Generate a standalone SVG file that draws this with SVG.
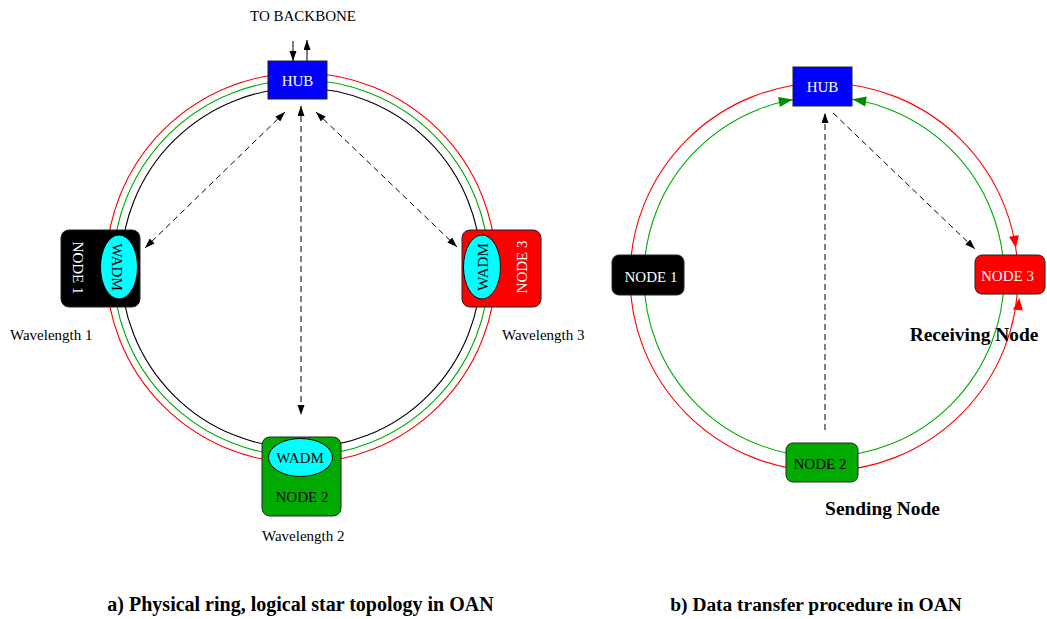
<svg xmlns="http://www.w3.org/2000/svg" width="1047" height="619" viewBox="0 0 1047 619">
<style>
text{font-family:"Liberation Serif","Times New Roman",serif;font-size:15px}
.w{fill:#fff}
.b{fill:#000}
.c{text-anchor:middle}
.bold{font-weight:bold;font-size:19.4px}
.nd{stroke:#222;stroke-width:1}
.ring{fill:none;stroke-width:1.1}
.dash{fill:none;stroke:#000;stroke-width:1;stroke-dasharray:6 4}
.solid{fill:none;stroke:#000;stroke-width:1}
</style>
<defs>
<marker id="ah" markerUnits="userSpaceOnUse" markerWidth="11" markerHeight="8" refX="10" refY="3.5" orient="auto-start-reverse">
<path d="M0,0 L10,3.5 L0,7 z" fill="#000"/>
</marker>
</defs>
<rect width="1047" height="619" fill="#fff"/>
<g id="rings">
<circle cx="301" cy="268" r="195" class="ring" stroke="#ff0000"/>
<circle cx="301" cy="268" r="188" class="ring" stroke="#00aa00"/>
<circle cx="301" cy="268" r="180" class="ring" stroke="#000"/>
<circle cx="824" cy="277" r="194" class="ring" stroke="#ff0000"/>
<circle cx="824" cy="277" r="180" class="ring" stroke="#00aa00"/>
</g>
<g id="connectors">
<line x1="293" y1="41" x2="293" y2="61" class="solid" marker-end="url(#ah)"/>
<line x1="307" y1="61" x2="307" y2="40" class="solid" marker-end="url(#ah)"/>
<line x1="285" y1="112" x2="145" y2="248" class="dash" marker-start="url(#ah)" marker-end="url(#ah)"/>
<line x1="316" y1="112" x2="457" y2="247" class="dash" marker-start="url(#ah)" marker-end="url(#ah)"/>
<line x1="301" y1="106" x2="301" y2="415" class="dash" marker-start="url(#ah)" marker-end="url(#ah)"/>
<line x1="825" y1="430" x2="825" y2="113" class="dash" marker-end="url(#ah)"/>
<line x1="833" y1="113" x2="975" y2="249" class="dash" marker-end="url(#ah)"/>
<polygon points="0,-5 14,0 0,5" fill="#008c00" transform="translate(779,102) rotate(-10)"/>
<polygon points="0,-5 14,0 0,5" fill="#008c00" transform="translate(866,101.5) rotate(189)"/>
<polygon points="0,-5 12,0 0,5" fill="#ff0000" transform="translate(1014,236) rotate(81)"/>
<polygon points="0,-5 12,0 0,5" fill="#ff0000" transform="translate(1018,310) rotate(-84)"/>
</g>
<g id="hub-a">
<rect x="268" y="61" width="59" height="38" fill="#0000ff" class="nd"/>
<text x="297.5" y="86" class="w c">HUB</text>
</g>
<g id="node1-a">
<rect x="61" y="230" width="79" height="77" rx="8" fill="#000" class="nd"/>
<ellipse cx="119" cy="267" rx="18.5" ry="32" fill="#00ffff" stroke="#000"/>
<text transform="translate(73,268) rotate(90)" class="w c">NODE 1</text>
<text transform="translate(112,267) rotate(90)" class="b c">WADM</text>
</g>
<g id="node3-a">
<rect x="462" y="230" width="79" height="77" rx="8" fill="#ff0000" class="nd"/>
<ellipse cx="482" cy="267" rx="18.5" ry="32" fill="#00ffff" stroke="#000"/>
<text transform="translate(527,267) rotate(-90)" class="w c">NODE 3</text>
<text transform="translate(488,267) rotate(-90)" class="b c">WADM</text>
</g>
<g id="node2-a">
<rect x="262" y="437" width="79" height="79" rx="8" fill="#00aa00" class="nd"/>
<ellipse cx="300.5" cy="457.5" rx="32" ry="19" fill="#00ffff" stroke="#000"/>
<text x="300" y="463" class="b c">WADM</text>
<text x="302" y="502" class="b c">NODE 2</text>
</g>
<g id="hub-b">
<rect x="793" y="67" width="59" height="39" fill="#0000ff" class="nd"/>
<text x="822.5" y="92" class="w c">HUB</text>
</g>
<g id="node1-b">
<rect x="612" y="255" width="72" height="40" rx="7" fill="#000" class="nd"/>
<text x="651" y="282" class="w c">NODE 1</text>
</g>
<g id="node3-b">
<rect x="975" y="255" width="70" height="39" rx="7" fill="#ff0000" class="nd"/>
<text x="1007.5" y="281" class="w c">NODE 3</text>
</g>
<g id="node2-b">
<rect x="786" y="443" width="72" height="39" rx="7" fill="#00aa00" class="nd"/>
<text x="820" y="469" class="b c">NODE 2</text>
</g>
<g id="labels">
<text x="303" y="21" class="c">TO BACKBONE</text>
<text x="10" y="340">Wavelength 1</text>
<text x="502" y="340">Wavelength 3</text>
<text x="262" y="541">Wavelength 2</text>
<text x="974" y="341" class="bold c">Receiving Node</text>
<text x="882.5" y="515" class="bold c">Sending Node</text>
<text x="300.5" y="611" class="bold c" style="font-size:20px">a) Physical ring, logical star topology in OAN</text>
<text x="816" y="611" class="bold c">b) Data transfer procedure in OAN</text>
</g>
</svg>
